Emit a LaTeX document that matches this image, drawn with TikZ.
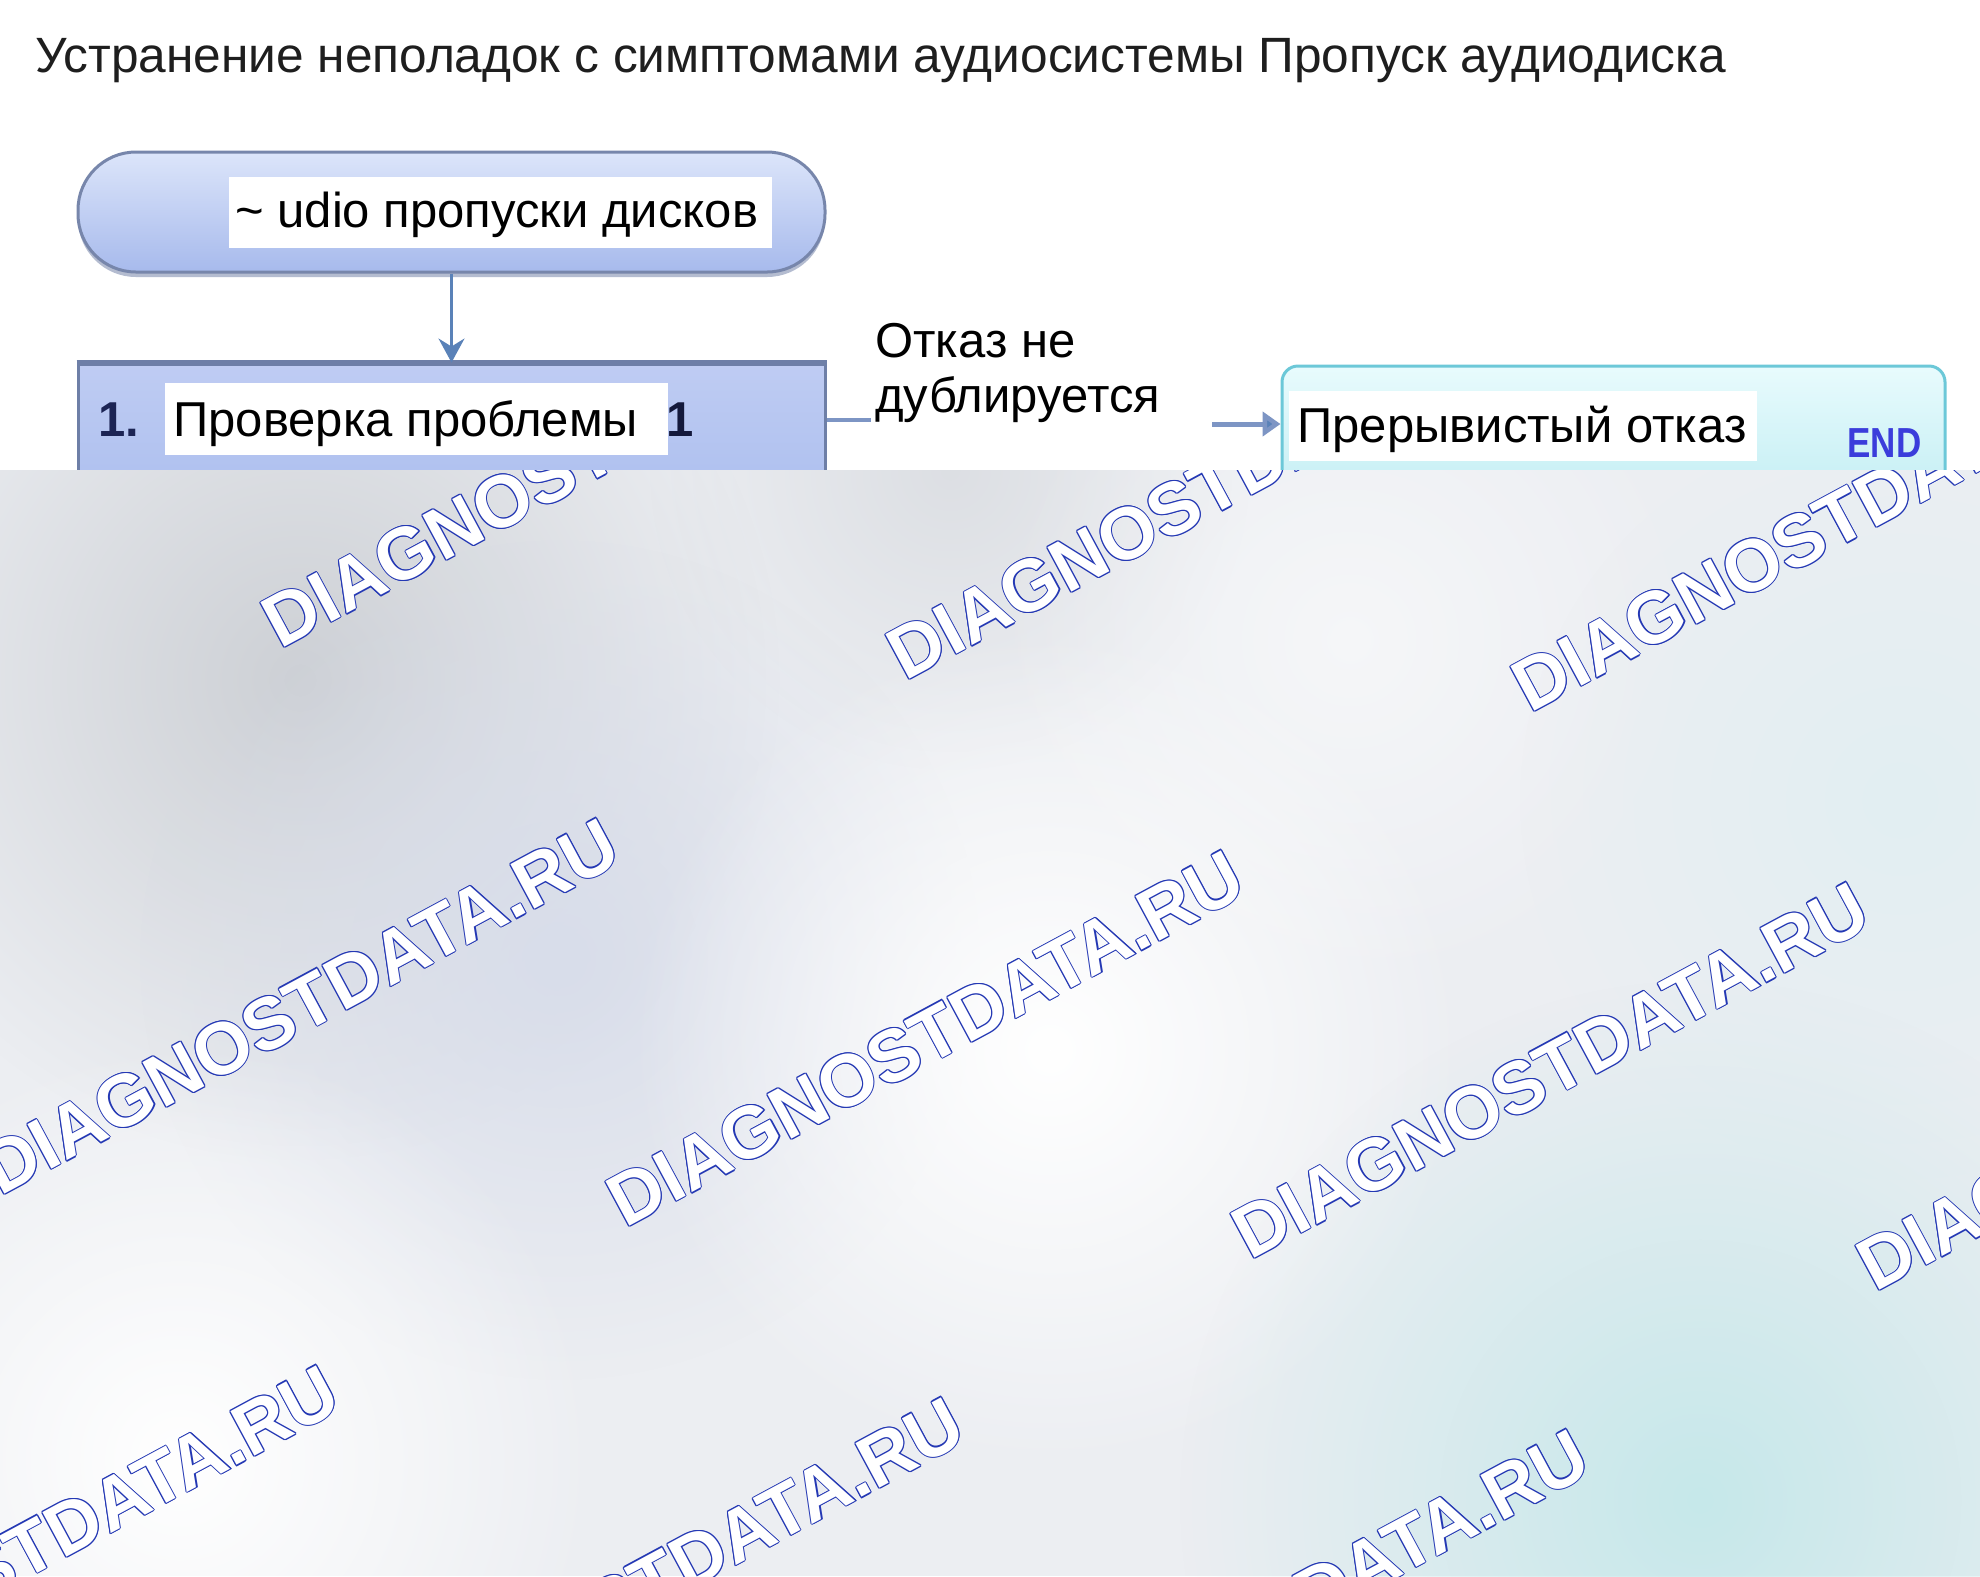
\documentclass[tikz,border=0pt]{standalone}
\usepackage{fontspec}
\setmainfont{Liberation Sans}
\usetikzlibrary{arrows.meta,fadings,shadows}
\tikzfading[name=blobfade, inner color=transparent!0, outer color=transparent!100]
\definecolor{titlecol}{HTML}{1E1E1E}
\definecolor{pillTop}{HTML}{DCE5FA}
\definecolor{pillBot}{HTML}{A7BAEC}
\definecolor{pillEdge}{HTML}{7786AB}
\definecolor{boxTop}{HTML}{BFCCF3}
\definecolor{boxBot}{HTML}{AEC0EF}
\definecolor{boxEdge}{HTML}{6E7FA7}
\definecolor{endTop}{HTML}{E8FBFD}
\definecolor{endBot}{HTML}{C6EFF4}
\definecolor{endEdge}{HTML}{6CC8D8}
\definecolor{arrowcol}{HTML}{5A82B8}
\definecolor{conncol}{HTML}{7D95C4}
\definecolor{numcol}{HTML}{1C2454}
\definecolor{endtxt}{HTML}{3B3DDB}
\definecolor{bgbase}{HTML}{ECEEF2}
\definecolor{bggray}{HTML}{CDD0D5}
\definecolor{bgblue}{HTML}{D8DDEA}
\definecolor{bgcyan}{HTML}{C6E8EA}
\definecolor{bgcyan2}{HTML}{E2EEF2}
\definecolor{wmblue}{HTML}{2438B4}
\newcommand\wmk[3]{%
  \foreach \dx/\dy [count=\k] in {0.55pt/0pt,-0.55pt/0pt,0pt/0.55pt,0pt/-0.55pt,0.4pt/0.4pt,0.4pt/-0.4pt,-0.4pt/0.4pt,-0.4pt/-0.4pt}{%
    \node[wm,text=wmblue] (#1o\k) at ([shift={(\dx,\dy)}]#2,#3) {DIAGNOSTDATA.RU};}%
  \node[wm,text=white] (#1) at (#2,#3) {DIAGNOSTDATA.RU};}
\begin{document}
\begin{tikzpicture}[x=0.5pt,y=-0.5pt,
  txt/.style={font=\fontsize{24.5pt}{25pt}\selectfont, text=black},
  startbox/.style={rectangle, rounded corners=29pt, top color=pillTop, bottom color=pillBot, draw=pillEdge, line width=1.5pt, inner sep=0pt,
    drop shadow={shadow xshift=0pt, shadow yshift=-2.5pt, fill=pillEdge, opacity=0.55}},
  stepbox/.style={rectangle, top color=boxTop, bottom color=boxBot, draw=boxEdge, line width=1.5pt, inner sep=0pt},
  endbox/.style={rectangle, rounded corners=8pt, top color=endTop, bottom color=endBot, draw=endEdge, line width=1.5pt, inner sep=0pt},
  whitelbl/.style={txt, fill=white, inner sep=0pt, anchor=north west},
  arr1/.style={draw=arrowcol, line width=1.2pt, -{Stealth[length=12pt,width=13pt,inset=4pt]}},
  conn/.style={draw=conncol, line width=2pt},
  arr2/.style={draw=conncol, line width=2.5pt, -{Triangle[length=9pt,width=12pt,fill=arrowcol]}},
  wm/.style={font=\bfseries\fontsize{36.8pt}{40pt}\selectfont, rotate=28.3, anchor=base west, inner sep=0pt},
  blob/.style={path fading=blobfade}
]
\useasboundingbox (0,0) rectangle (1980,1576);
\fill[white] (0,0) rectangle (1980,1576);

% title
\node[anchor=base west, inner sep=0pt, font=\fontsize{24.8pt}{28pt}\selectfont, text=titlecol] (title) at (35,72)
  {Устранение неполадок с симптомами аудиосистемы Пропуск аудиодиска};

% start terminal
\node[startbox, minimum width=373.5pt, minimum height=60pt] (start) at (451.5,212) {};
\node[whitelbl, text height=25pt, text depth=10.5pt] (startlbl) at (229,177)
  {\makebox[271.5pt][l]{\hspace{3pt}\textasciitilde{} udio пропуски дисков}};

% step 1
\node[stepbox, minimum width=373.5pt, minimum height=63pt] (box1) at (451.5,427) {};
\draw[boxEdge, line width=2.5pt] (box1.north west) -- (box1.north east);
\node[whitelbl, text height=26.5pt, text depth=9.5pt] (box1lbl) at (165,383)
  {\makebox[251.5pt][l]{\hspace{4pt}Проверка проблемы}};
\node[anchor=base west, inner sep=0pt, text=numcol, font=\bfseries\fontsize{24.5pt}{25pt}\selectfont] (num1) at (98,436) {1.};
\node[anchor=base west, inner sep=0pt, text=numcol!70!black, font=\bfseries\fontsize{24.5pt}{25pt}\selectfont] (one) at (666,436) {1};

% end box
\node[endbox, minimum width=331.5pt, minimum height=62pt] (endb) at (1613.5,428) {};
\node[whitelbl, text height=25.5pt, text depth=9.5pt] (endlbl) at (1289,391)
  {\makebox[234pt][l]{\hspace{4pt}Прерывистый отказ}};
\node[anchor=base west, inner sep=0pt, text=endtxt, font=\bfseries\fontsize{17.5pt}{20pt}\selectfont] (endtag) at (1847,457) {\scalebox{1}[1.2]{END}};

% label
\node[anchor=base west, inner sep=0pt, font=\fontsize{24.5pt}{27.5pt}\selectfont] (lbl) at (875,357)
  {\parbox[t]{150pt}{\raggedright Отказ не\\дублируется}};

% connectors
\draw[arr1] (start.south) -- (box1.north);
\coordinate (c1) at (871,420);
\coordinate (c2) at (1212,424);
\draw[conn] (box1.east |- c1) -- (c1);
\draw[arr2] (c2) -- (endb.west |- c2);

% lower background area with watermark
\fill[bgbase] (0,470) rectangle (1980,1576);
\begin{scope}
  \clip (0,470) rectangle (1980,1576);
  \fill[bggray, blob] (300,680) circle (480);
  \fill[bggray, blob, opacity=0.5] (950,470) circle (300);
  \fill[bgblue, blob] (560,960) circle (420);
  \fill[white, blob] (1050,1050) circle (420);
  \fill[white, blob] (180,1460) circle (420);
  \fill[white, blob, opacity=0.5] (1350,640) circle (360);
  \fill[bgcyan2, blob] (1900,800) circle (380);
  \fill[bgcyan, blob] (1700,1500) circle (520);
  \wmk{wmA}{280}{650}
  \wmk{wmB}{905}{682}
  \wmk{wmC}{1530}{714}
  \wmk{wmD}{0}{1197}
  \wmk{wmE}{625}{1229}
  \wmk{wmF}{1250}{1261}
  \wmk{wmG}{1875}{1293}
  \wmk{wmH}{-280}{1744}
  \wmk{wmI}{345}{1776}
  \wmk{wmJ}{970}{1808}
\end{scope}
\end{tikzpicture}
\end{document}
